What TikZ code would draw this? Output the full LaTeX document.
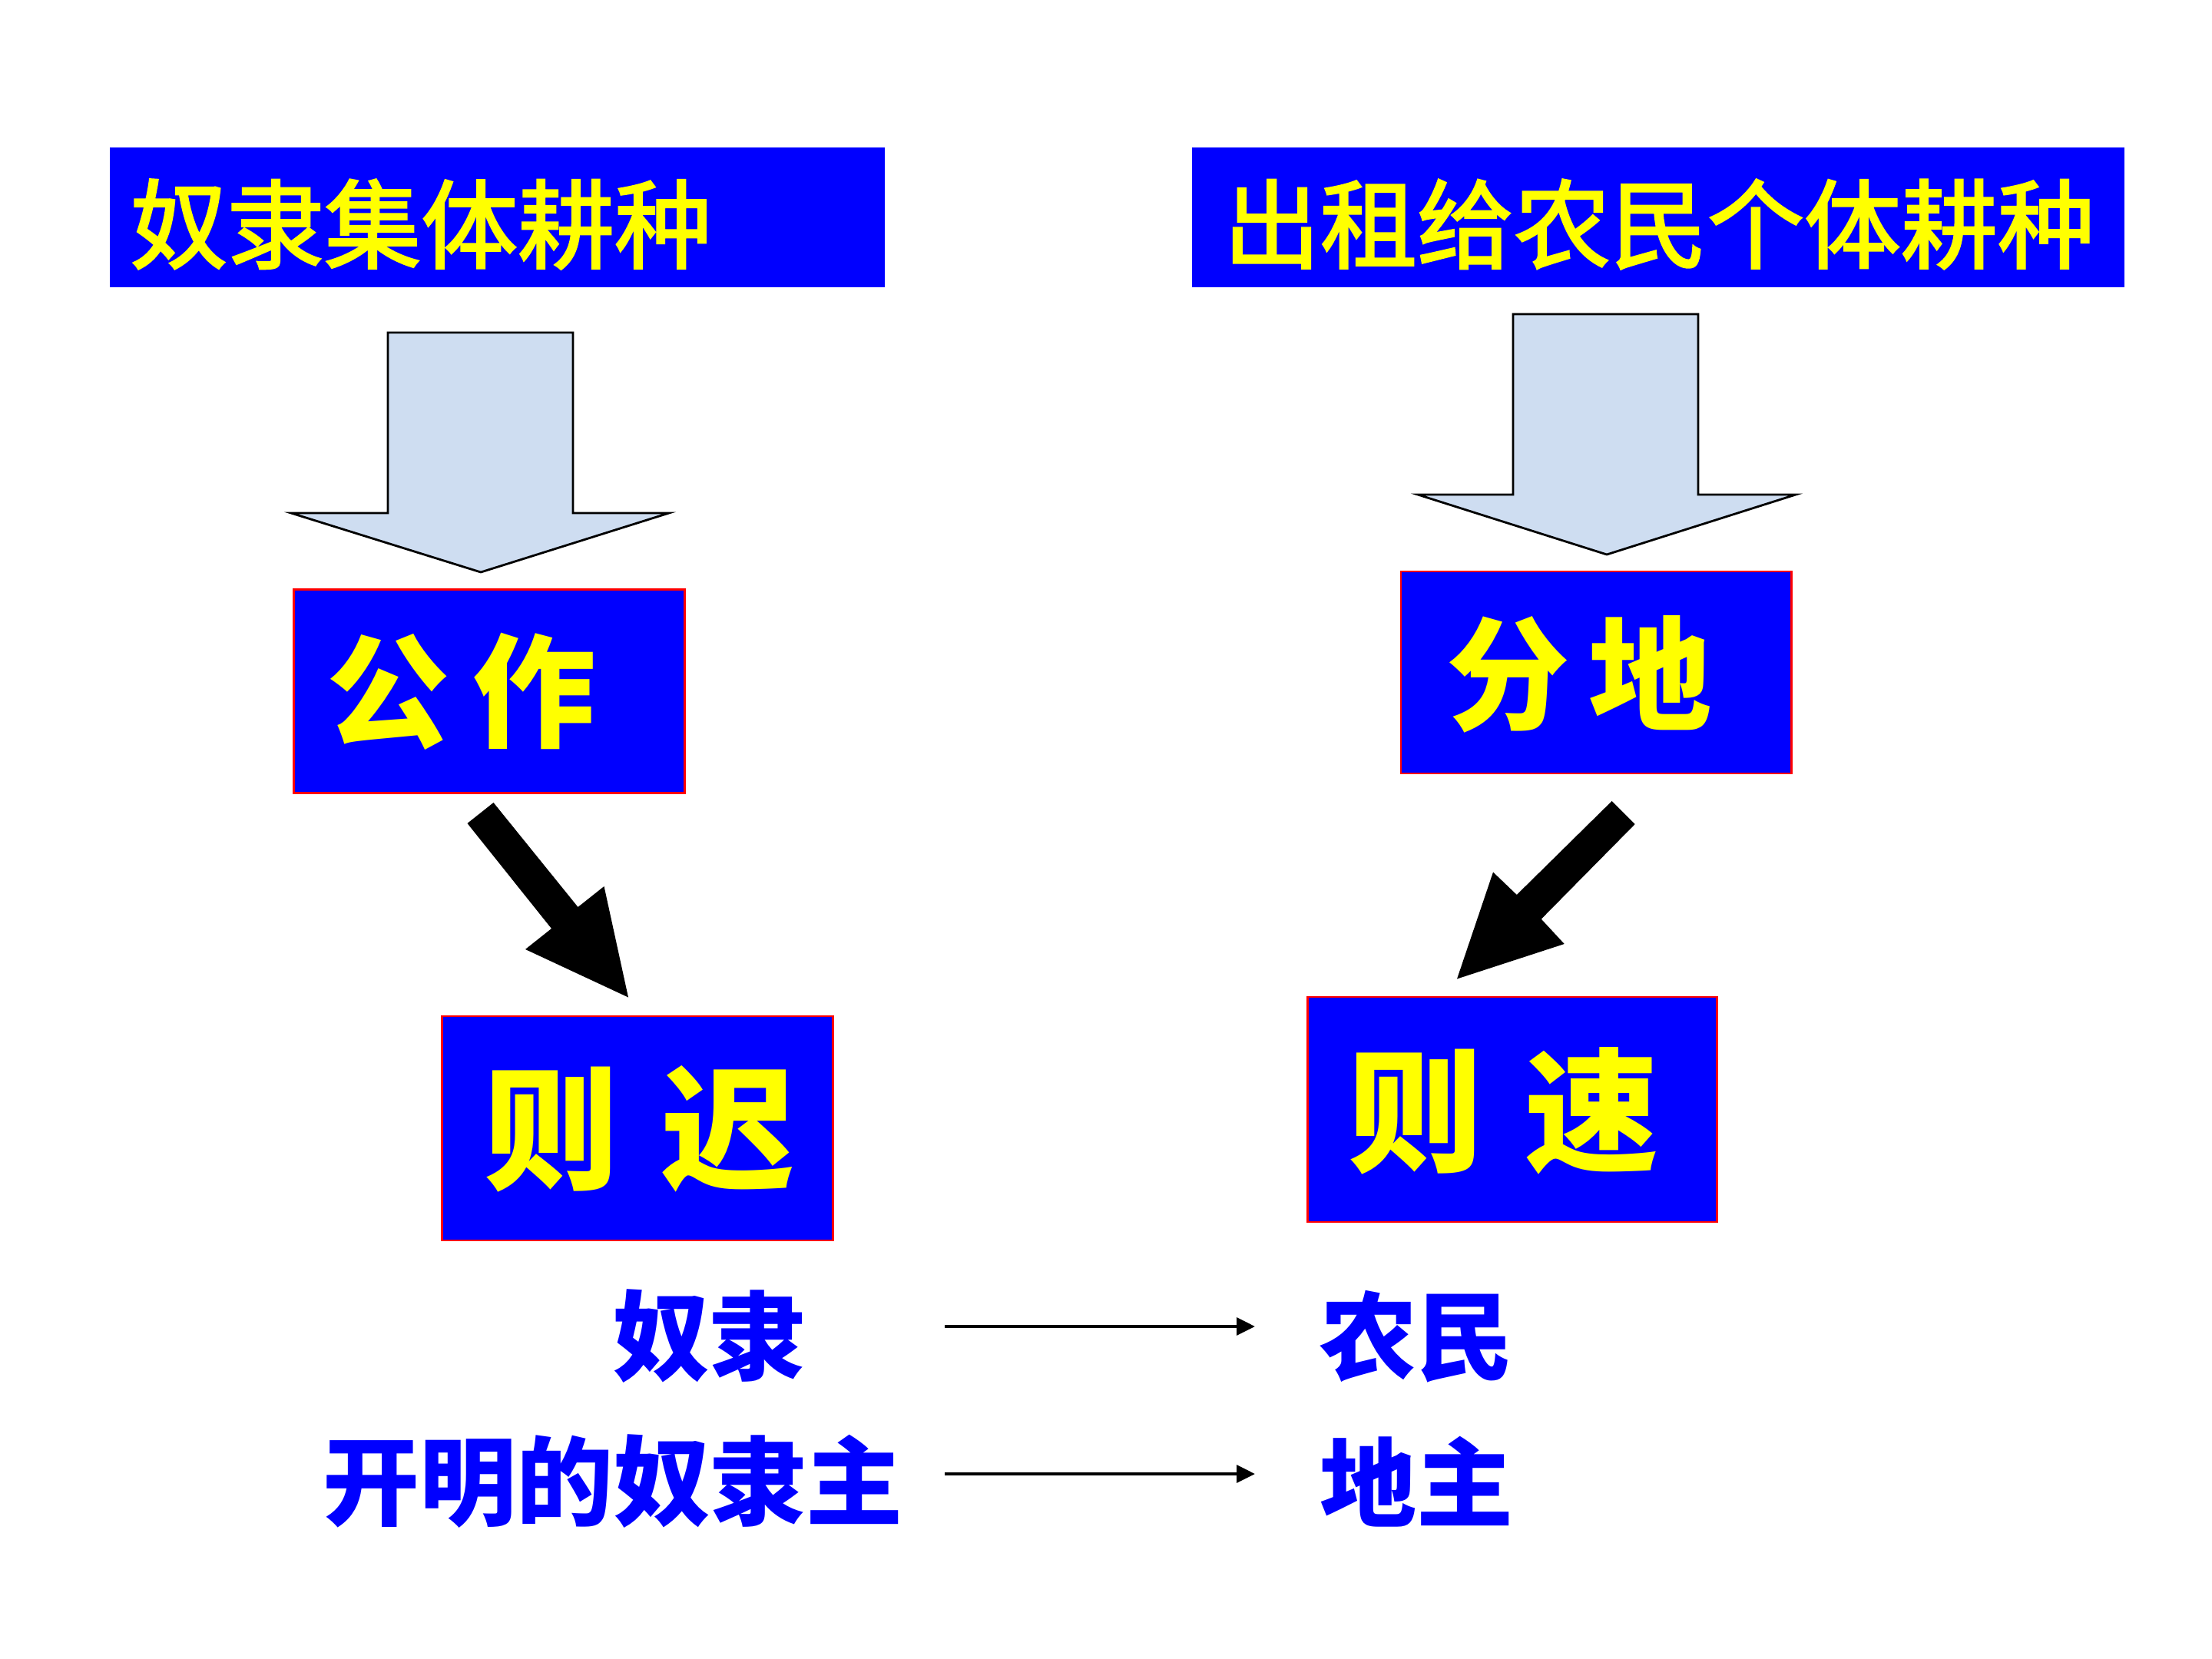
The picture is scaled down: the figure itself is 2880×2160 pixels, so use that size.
\documentclass[tikz,border=0pt]{standalone}
\usepackage{fontspec}
\newfontfamily\cjk{Noto Sans CJK SC}
\newfontfamily\cjkmed{Noto Sans CJK SC}[FakeBold=2.2]
\usetikzlibrary{arrows.meta}
\definecolor{boxblue}{RGB}{0,0,255}
\definecolor{txtyellow}{RGB}{255,255,0}
\definecolor{arrowfill}{RGB}{206,221,241}
\tikzset{
  topbox/.style={fill=boxblue, draw=none, minimum height=129.5pt, inner sep=0pt},
  midbox/.style={fill=boxblue, draw=red, line width=2pt, inner sep=0pt},
  toptext/.style={text=txtyellow, inner sep=0pt, font=\cjkmed\fontsize{89.6pt}{90pt}\selectfont},
  brushtext/.style={text=txtyellow, inner sep=0pt, font=\cjk\bfseries\fontsize{114pt}{115pt}\selectfont},
  bigbrushtext/.style={text=txtyellow, inner sep=0pt, font=\cjk\bfseries\fontsize{124pt}{125pt}\selectfont},
  bluetext/.style={text=boxblue, inner sep=0pt, font=\cjk\bfseries\fontsize{89.6pt}{90pt}\selectfont},
  blockarrow/.style={fill=arrowfill, draw=black, line width=2pt, line join=miter},
  blackarrow/.style={fill=black, draw=none},
  thinarrow/.style={draw=black, line width=3.2pt, -{Triangle[length=17pt,width=16pt]}}
}
\begin{document}
\begin{tikzpicture}[x=0.025cm, y=-0.025cm]
\useasboundingbox (0,0) rectangle (2880,2160);
\fill[white] (0,0) rectangle (2880,2160);

% top boxes
\node[topbox, minimum width=717.7pt] (tl) at (647.5,283) {};
\node[toptext, anchor=west] (tltext) at (170,292) {奴隶集体耕种};
\node[topbox, minimum width=863.5pt] (tr) at (2159,283) {};
\node[toptext] (trtext) at (2160,292) {出租给农民个体耕种};

% block arrows
\path[blockarrow] (505,433) -- (746,433) -- (746,668) -- (871,668) -- (626,745)
   -- (379,668) -- (505,668) -- cycle;
\path[blockarrow] (1970,409) -- (2211,409) -- (2211,644) -- (2338,644) -- (2092,722)
   -- (1846,644) -- (1970,644) -- cycle;

% middle boxes
\node[midbox, minimum width=362pt, minimum height=188.9pt] (gz) at (637,900) {};
\node[brushtext] (gztext) at (601,900) {公\hspace{21pt}作};
\node[midbox, minimum width=361.4pt, minimum height=187.1pt] (fd) at (2078,875.5) {};
\node[brushtext] (fdtext) at (2056,878) {分\hspace{18pt}地};

% black arrows
\path[blackarrow] (608.5,1072) -- (642.5,1045) -- (752.5,1181) -- (786.5,1154)
   -- (818,1298.5) -- (684,1236) -- (718,1209) -- cycle;
\path[blackarrow] (2098.6,1043) -- (2128.7,1073) -- (2006.7,1196.6) -- (2036.7,1229)
   -- (1897,1274.5) -- (1944,1135.5) -- (1974.8,1165) -- cycle;

% lower boxes
\node[midbox, minimum width=361.7pt, minimum height=207.7pt] (zc) at (830,1469) {};
\node[bigbrushtext] (zctext) at (833,1470) {则\hspace{39pt}迟};
\node[midbox, minimum width=378.8pt, minimum height=208.4pt] (zs) at (1969,1444.5) {};
\node[bigbrushtext] (zstext) at (1958,1446) {则\hspace{39pt}速};

% bottom text
\node[bluetext] (nuli) at (923,1740) {奴隶};
\node[bluetext] (kaiming) at (798,1929) {开明的奴隶主};
\node[bluetext] (nongmin) at (1844,1740) {农民};
\node[bluetext] (dizhu) at (1844,1929) {地主};

\coordinate (a1) at (1230,1727);
\coordinate (b1) at (1634,1727);
\coordinate (a2) at (1230,1919);
\coordinate (b2) at (1634,1919);
\draw[thinarrow] (a1) -- (b1);
\draw[thinarrow] (a2) -- (b2);
\end{tikzpicture}
\end{document}
